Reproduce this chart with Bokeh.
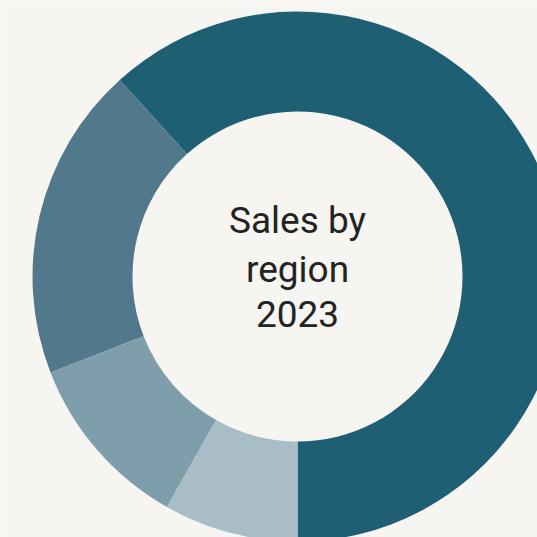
import math
from bokeh.plotting import figure
from bokeh.models import Range1d, ColumnDataSource
from bokeh.core.properties import value
from bokeh.embed import file_html
from bokeh.resources import INLINE

# Data (shares of sales)
regions = ["Region 1", "Region 2", "Region 3", "Region 4"]
shares = [61.7, 19.2, 10.9, 8.2]
colors = ["#1f5f73", "#52798b", "#7f9eab", "#a9bdc6"]
title_lines = ["Sales by", "region", "2023"]

BG = "#f6f5f1"
W = H = 537
cx_px, cy_px = 297, 276          # donut centre within the frame (px)
outer_r, inner_r = 265, 165

p = figure(width=W, height=H, output_backend="svg", toolbar_location=None,
           x_range=Range1d(-cx_px, W - cx_px), y_range=Range1d(-(H - cy_px), cy_px),
           min_border=0, outline_line_color=None)
p.axis.visible = False
p.grid.visible = False
p.background_fill_color = BG
p.border_fill_color = BG

total = sum(shares)
starts, ends = [], []
a = -math.pi / 2
for s in shares:
    starts.append(a)
    a += s / total * 2 * math.pi
    ends.append(a)

src = ColumnDataSource(dict(region=regions, share=shares, color=colors,
                            start=starts, end=ends))
p.annular_wedge(x=0, y=0, inner_radius=inner_r, outer_radius=outer_r,
                start_angle="start", end_angle="end", color="color",
                line_color=None, source=src)

line_y = [56, 7, -37]
p.text(x=[0] * len(title_lines), y=line_y, text=title_lines,
       text_font=value("Roboto"), text_font_size="37px", text_color="#232323",
       text_align="center", text_baseline="middle")

open("out.html", "w").write(file_html(p, INLINE))
